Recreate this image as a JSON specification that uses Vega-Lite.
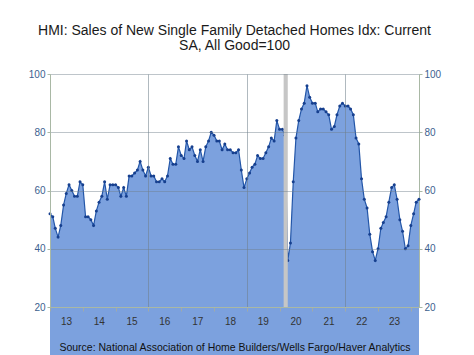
{
  "$schema": "https://vega.github.io/schema/vega-lite/v6.json",
  "width": 369,
  "height": 233,
  "autosize": {"type": "none"},
  "padding": {"left": 50, "top": 74, "right": 55, "bottom": 48},
  "background": "white",
  "title": {
    "text": ["HMI: Sales of New Single Family Detached Homes Idx: Current", "SA, All Good=100"],
    "fontSize": 14, "font": "Liberation Sans", "fontWeight": "normal", "color": "#1a1a1a",
    "anchor": "middle", "offset": 16, "lineHeight": 15
  },
  "config": {"view": {"stroke": null}, "axis": {"labelFont": "Liberation Sans", "titleFont": "Liberation Sans"}},
  "data": {"values": [
    {"d":"2013-01-01","v":52},{"d":"2013-02-01","v":51},{"d":"2013-03-01","v":47},{"d":"2013-04-01","v":44},{"d":"2013-05-01","v":48},{"d":"2013-06-01","v":55},{"d":"2013-07-01","v":59},{"d":"2013-08-01","v":62},{"d":"2013-09-01","v":60},{"d":"2013-10-01","v":58},{"d":"2013-11-01","v":58},{"d":"2013-12-01","v":63},
    {"d":"2014-01-01","v":62},{"d":"2014-02-01","v":51},{"d":"2014-03-01","v":51},{"d":"2014-04-01","v":50},{"d":"2014-05-01","v":48},{"d":"2014-06-01","v":53},{"d":"2014-07-01","v":56},{"d":"2014-08-01","v":58},{"d":"2014-09-01","v":63},{"d":"2014-10-01","v":57},{"d":"2014-11-01","v":62},{"d":"2014-12-01","v":62},
    {"d":"2015-01-01","v":62},{"d":"2015-02-01","v":61},{"d":"2015-03-01","v":58},{"d":"2015-04-01","v":61},{"d":"2015-05-01","v":58},{"d":"2015-06-01","v":65},{"d":"2015-07-01","v":65},{"d":"2015-08-01","v":66},{"d":"2015-09-01","v":67},{"d":"2015-10-01","v":70},{"d":"2015-11-01","v":67},{"d":"2015-12-01","v":65},
    {"d":"2016-01-01","v":68},{"d":"2016-02-01","v":65},{"d":"2016-03-01","v":65},{"d":"2016-04-01","v":63},{"d":"2016-05-01","v":63},{"d":"2016-06-01","v":64},{"d":"2016-07-01","v":63},{"d":"2016-08-01","v":65},{"d":"2016-09-01","v":71},{"d":"2016-10-01","v":69},{"d":"2016-11-01","v":69},{"d":"2016-12-01","v":75},
    {"d":"2017-01-01","v":72},{"d":"2017-02-01","v":71},{"d":"2017-03-01","v":77},{"d":"2017-04-01","v":74},{"d":"2017-05-01","v":75},{"d":"2017-06-01","v":72},{"d":"2017-07-01","v":70},{"d":"2017-08-01","v":74},{"d":"2017-09-01","v":70},{"d":"2017-10-01","v":75},{"d":"2017-11-01","v":77},{"d":"2017-12-01","v":80},
    {"d":"2018-01-01","v":79},{"d":"2018-02-01","v":77},{"d":"2018-03-01","v":77},{"d":"2018-04-01","v":74},{"d":"2018-05-01","v":76},{"d":"2018-06-01","v":74},{"d":"2018-07-01","v":74},{"d":"2018-08-01","v":73},{"d":"2018-09-01","v":73},{"d":"2018-10-01","v":74},{"d":"2018-11-01","v":67},{"d":"2018-12-01","v":61},
    {"d":"2019-01-01","v":64},{"d":"2019-02-01","v":66},{"d":"2019-03-01","v":68},{"d":"2019-04-01","v":69},{"d":"2019-05-01","v":72},{"d":"2019-06-01","v":71},{"d":"2019-07-01","v":71},{"d":"2019-08-01","v":73},{"d":"2019-09-01","v":75},{"d":"2019-10-01","v":78},{"d":"2019-11-01","v":77},{"d":"2019-12-01","v":84},
    {"d":"2020-01-01","v":81},{"d":"2020-02-01","v":81},{"d":"2020-03-01","v":79},{"d":"2020-04-01","v":36},{"d":"2020-05-01","v":42},{"d":"2020-06-01","v":63},{"d":"2020-07-01","v":78},{"d":"2020-08-01","v":84},{"d":"2020-09-01","v":88},{"d":"2020-10-01","v":90},{"d":"2020-11-01","v":96},{"d":"2020-12-01","v":92},
    {"d":"2021-01-01","v":90},{"d":"2021-02-01","v":90},{"d":"2021-03-01","v":87},{"d":"2021-04-01","v":88},{"d":"2021-05-01","v":88},{"d":"2021-06-01","v":87},{"d":"2021-07-01","v":86},{"d":"2021-08-01","v":81},{"d":"2021-09-01","v":82},{"d":"2021-10-01","v":86},{"d":"2021-11-01","v":89},{"d":"2021-12-01","v":90},
    {"d":"2022-01-01","v":89},{"d":"2022-02-01","v":89},{"d":"2022-03-01","v":88},{"d":"2022-04-01","v":86},{"d":"2022-05-01","v":78},{"d":"2022-06-01","v":76},{"d":"2022-07-01","v":64},{"d":"2022-08-01","v":57},{"d":"2022-09-01","v":54},{"d":"2022-10-01","v":45},{"d":"2022-11-01","v":39},{"d":"2022-12-01","v":36},
    {"d":"2023-01-01","v":40},{"d":"2023-02-01","v":47},{"d":"2023-03-01","v":49},{"d":"2023-04-01","v":51},{"d":"2023-05-01","v":56},{"d":"2023-06-01","v":61},{"d":"2023-07-01","v":62},{"d":"2023-08-01","v":57},{"d":"2023-09-01","v":50},{"d":"2023-10-01","v":46},{"d":"2023-11-01","v":40},{"d":"2023-12-01","v":41},
    {"d":"2024-01-01","v":48},{"d":"2024-02-01","v":52},{"d":"2024-03-01","v":56},{"d":"2024-04-01","v":57}
  ]},
  "layer": [
    {
      "mark": {"type": "area", "color": "#7ca1de", "opacity": 1},
      "encoding": {
        "x": {"field": "d", "type": "temporal",
          "scale": {"type": "utc", "domain": ["2013-01-01", "2024-04-01"]},
          "axis": {
            "title": "Source:  National Association of Home Builders/Wells Fargo/Haver Analytics",
            "titleFontSize": 10.5, "titleFontWeight": "normal", "titleColor": "#111111", "titlePadding": 16,
            "tickCount": {"interval": "year", "step": 1},
            "labelExpr": "utcyear(datum.value) >= 2024 ? '' : utcFormat(datum.value, '%y')",
            "labelOffset": 16, "labelAlign": "center", "labelFontSize": 10, "labelColor": "#333333",
            "labelFlush": false, "labelOverlap": false, "labelPadding": 5,
            "tickSize": 4, "tickColor": "#a0aaa8", "domainColor": "#a9b8a5",
            "grid": true, "gridColor": "#6f7f8a",
            "gridOpacity": {"condition": {"test": "utcyear(datum.value) % 3 == 0", "value": 0.55}, "value": 0},
            "zindex": 1
          }
        },
        "y": {"field": "v", "type": "quantitative",
          "scale": {"domain": [20, 100], "nice": false},
          "axis": {"title": null, "orient": "left", "values": [20, 40, 60, 80, 100],
            "labelFontSize": 10, "labelColor": "#3d5f8f", "tickSize": 3, "tickColor": "#a9b8a5",
            "domainColor": "#a9b8a5", "labelPadding": 2,
            "grid": true, "gridColor": "#6f7f8a", "gridOpacity": 0.45, "zindex": 1}
        }
      }
    },
    {
      "mark": {"type": "line", "color": "#2356a8", "strokeWidth": 1.2},
      "encoding": {
        "x": {"field": "d", "type": "temporal"},
        "y": {"field": "v", "type": "quantitative",
          "axis": {"title": null, "orient": "right", "values": [20, 40, 60, 80, 100],
            "labelFontSize": 10, "labelColor": "#3d5f8f", "tickSize": 3, "tickColor": "#a9b8a5",
            "domainColor": "#a9b8a5", "labelPadding": 2, "grid": false}
        }
      }
    },
    {
      "mark": {"type": "point", "filled": true, "size": 9, "color": "#163f8e", "opacity": 1},
      "encoding": {
        "x": {"field": "d", "type": "temporal"},
        "y": {"field": "v", "type": "quantitative", "axis": null}
      }
    },
    {
      "data": {"values": [{"s": "2020-02-15", "e": "2020-04-01"}]},
      "mark": {"type": "rect", "color": "#c6c6c6", "opacity": 1},
      "encoding": {
        "x": {"field": "s", "type": "temporal"},
        "x2": {"field": "e"}
      }
    }
  ],
  "resolve": {"axis": {"y": "independent"}}
}
